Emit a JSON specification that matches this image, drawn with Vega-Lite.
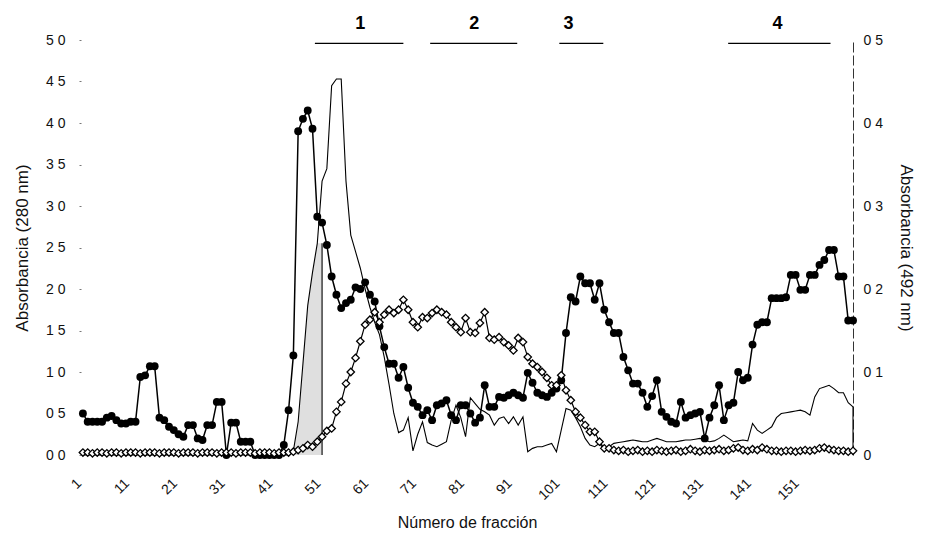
{
"$schema":"https://vega.github.io/schema/vega-lite/v6.json",
"width":772,"height":415,
"autosize":{"type":"none"},
"padding":{"left":81,"top":40,"right":74,"bottom":90},
"background":"white",
"config":{"view":{"stroke":null},"font":"Liberation Sans","axis":{"labelFont":"Liberation Sans","titleFont":"Liberation Sans","labelColor":"#111","titleColor":"#111","titleFontWeight":"normal","grid":false}},
"datasets":{
"fracciones":[
{"f":1,"a280":0.50,"a492":0.003,"s3":0},{"f":2,"a280":0.40,"a492":0.003,"s3":0},{"f":3,"a280":0.40,"a492":0.002,"s3":0},{"f":4,"a280":0.40,"a492":0.003,"s3":0},{"f":5,"a280":0.40,"a492":0.003,"s3":0},
{"f":6,"a280":0.45,"a492":0.002,"s3":0},{"f":7,"a280":0.47,"a492":0.003,"s3":0},{"f":8,"a280":0.42,"a492":0.003,"s3":0},{"f":9,"a280":0.38,"a492":0.002,"s3":0},{"f":10,"a280":0.38,"a492":0.003,"s3":0},
{"f":11,"a280":0.40,"a492":0.003,"s3":0},{"f":12,"a280":0.40,"a492":0.003,"s3":0},{"f":13,"a280":0.94,"a492":0.002,"s3":0},{"f":14,"a280":0.96,"a492":0.003,"s3":0},{"f":15,"a280":1.07,"a492":0.003,"s3":0},
{"f":16,"a280":1.07,"a492":0.003,"s3":0},{"f":17,"a280":0.45,"a492":0.002,"s3":0},{"f":18,"a280":0.42,"a492":0.003,"s3":0},{"f":19,"a280":0.34,"a492":0.003,"s3":0},{"f":20,"a280":0.30,"a492":0.003,"s3":0},
{"f":21,"a280":0.25,"a492":0.002,"s3":0},{"f":22,"a280":0.22,"a492":0.003,"s3":0},{"f":23,"a280":0.36,"a492":0.003,"s3":0},{"f":24,"a280":0.36,"a492":0.003,"s3":0},{"f":25,"a280":0.20,"a492":0.002,"s3":0},
{"f":26,"a280":0.18,"a492":0.003,"s3":0},{"f":27,"a280":0.36,"a492":0.003,"s3":0},{"f":28,"a280":0.36,"a492":0.003,"s3":0},{"f":29,"a280":0.64,"a492":0.002,"s3":0},{"f":30,"a280":0.64,"a492":0.003,"s3":0},
{"f":31,"a280":0.00,"a492":0.003,"s3":0},{"f":32,"a280":0.39,"a492":0.003,"s3":0},{"f":33,"a280":0.39,"a492":0.002,"s3":0},{"f":34,"a280":0.16,"a492":0.003,"s3":0},{"f":35,"a280":0.16,"a492":0.003,"s3":0},
{"f":36,"a280":0.16,"a492":0.003,"s3":0},{"f":37,"a280":0.00,"a492":0.002,"s3":0},{"f":38,"a280":0.00,"a492":0.003,"s3":0},{"f":39,"a280":0.00,"a492":0.003,"s3":0},{"f":40,"a280":0.00,"a492":0.003,"s3":0},
{"f":41,"a280":0.00,"a492":0.002,"s3":0},{"f":42,"a280":0.00,"a492":0.003,"s3":0},{"f":43,"a280":0.12,"a492":0.003,"s3":0},{"f":44,"a280":0.54,"a492":0.003,"s3":0},{"f":45,"a280":1.20,"a492":0.004,"s3":0.05},
{"f":46,"a280":3.90,"a492":0.006,"s3":0.4},{"f":47,"a280":4.05,"a492":0.008,"s3":1.1},{"f":48,"a280":4.15,"a492":0.012,"s3":1.8},{"f":49,"a280":3.93,"a492":0.010,"s3":2.2},{"f":50,"a280":2.87,"a492":0.016,"s3":2.55},
{"f":51,"a280":2.80,"a492":0.022,"s3":3.3},{"f":52,"a280":2.53,"a492":0.029,"s3":3.45},{"f":53,"a280":2.15,"a492":0.032,"s3":4.45},{"f":54,"a280":1.93,"a492":0.052,"s3":4.53},{"f":55,"a280":1.77,"a492":0.064,"s3":4.53},
{"f":56,"a280":1.83,"a492":0.086,"s3":3.3},{"f":57,"a280":1.87,"a492":0.100,"s3":2.65},{"f":58,"a280":2.02,"a492":0.117,"s3":2.45},{"f":59,"a280":2.00,"a492":0.137,"s3":2.25},{"f":60,"a280":2.08,"a492":0.157,"s3":2.0},
{"f":61,"a280":1.93,"a492":0.163,"s3":1.78},{"f":62,"a280":1.85,"a492":0.172,"s3":1.6},{"f":63,"a280":1.55,"a492":0.160,"s3":1.45},{"f":64,"a280":1.30,"a492":0.169,"s3":1.18},{"f":65,"a280":1.10,"a492":0.175,"s3":0.85},
{"f":66,"a280":1.10,"a492":0.171,"s3":0.5},{"f":67,"a280":0.93,"a492":0.175,"s3":0.27},{"f":68,"a280":1.06,"a492":0.187,"s3":0.3},{"f":69,"a280":0.81,"a492":0.175,"s3":0.45},{"f":70,"a280":0.63,"a492":0.160,"s3":0.05},
{"f":71,"a280":0.58,"a492":0.154,"s3":0.25},{"f":72,"a280":0.48,"a492":0.166,"s3":0.4},{"f":73,"a280":0.54,"a492":0.165,"s3":0.15},{"f":74,"a280":0.42,"a492":0.171,"s3":0.12},{"f":75,"a280":0.60,"a492":0.175,"s3":0.1},
{"f":76,"a280":0.62,"a492":0.172,"s3":0.13},{"f":77,"a280":0.66,"a492":0.169,"s3":0.16},{"f":78,"a280":0.48,"a492":0.160,"s3":0.42},{"f":79,"a280":0.42,"a492":0.154,"s3":0.6},{"f":80,"a280":0.60,"a492":0.148,"s3":0.45},
{"f":81,"a280":0.60,"a492":0.165,"s3":0.22},{"f":82,"a280":0.50,"a492":0.148,"s3":0.69},{"f":83,"a280":0.39,"a492":0.147,"s3":0.62},{"f":84,"a280":0.45,"a492":0.159,"s3":0.55},{"f":85,"a280":0.84,"a492":0.172,"s3":0.52},
{"f":86,"a280":0.58,"a492":0.141,"s3":0.48},{"f":87,"a280":0.58,"a492":0.139,"s3":0.36},{"f":88,"a280":0.70,"a492":0.142,"s3":0.44},{"f":89,"a280":0.69,"a492":0.136,"s3":0.46},{"f":90,"a280":0.72,"a492":0.132,"s3":0.38},
{"f":91,"a280":0.75,"a492":0.126,"s3":0.46},{"f":92,"a280":0.72,"a492":0.141,"s3":0.36},{"f":93,"a280":0.69,"a492":0.136,"s3":0.46},{"f":94,"a280":0.99,"a492":0.118,"s3":0.04},{"f":95,"a280":0.87,"a492":0.110,"s3":0.08},
{"f":96,"a280":0.75,"a492":0.106,"s3":0.1},{"f":97,"a280":0.72,"a492":0.100,"s3":0.1},{"f":98,"a280":0.70,"a492":0.093,"s3":0.12},{"f":99,"a280":0.75,"a492":0.084,"s3":0.14},{"f":100,"a280":0.80,"a492":0.084,"s3":0.04},
{"f":101,"a280":0.90,"a492":0.096,"s3":0.3},{"f":102,"a280":1.47,"a492":0.078,"s3":0.56},{"f":103,"a280":1.90,"a492":0.066,"s3":0.54},{"f":104,"a280":1.85,"a492":0.052,"s3":0.45},{"f":105,"a280":2.15,"a492":0.045,"s3":0.34},
{"f":106,"a280":2.07,"a492":0.036,"s3":0.2},{"f":107,"a280":2.07,"a492":0.028,"s3":0.12},{"f":108,"a280":1.87,"a492":0.028,"s3":0.1},{"f":109,"a280":2.07,"a492":0.016,"s3":0.14},{"f":110,"a280":1.75,"a492":0.008,"s3":0.06},
{"f":111,"a280":1.60,"a492":0.008,"s3":0.1},{"f":112,"a280":1.47,"a492":0.006,"s3":0.14},{"f":113,"a280":1.47,"a492":0.005,"s3":0.15},{"f":114,"a280":1.18,"a492":0.006,"s3":0.16},{"f":115,"a280":1.02,"a492":0.004,"s3":0.17},
{"f":116,"a280":0.86,"a492":0.005,"s3":0.18},{"f":117,"a280":0.86,"a492":0.006,"s3":0.17},{"f":118,"a280":0.75,"a492":0.004,"s3":0.16},{"f":119,"a280":0.58,"a492":0.005,"s3":0.16},{"f":120,"a280":0.71,"a492":0.004,"s3":0.18},
{"f":121,"a280":0.90,"a492":0.006,"s3":0.2},{"f":122,"a280":0.52,"a492":0.005,"s3":0.18},{"f":123,"a280":0.46,"a492":0.004,"s3":0.16},{"f":124,"a280":0.40,"a492":0.005,"s3":0.16},{"f":125,"a280":0.38,"a492":0.006,"s3":0.16},
{"f":126,"a280":0.64,"a492":0.004,"s3":0.17},{"f":127,"a280":0.45,"a492":0.005,"s3":0.18},{"f":128,"a280":0.48,"a492":0.007,"s3":0.18},{"f":129,"a280":0.50,"a492":0.005,"s3":0.19},{"f":130,"a280":0.52,"a492":0.004,"s3":0.2},
{"f":131,"a280":0.20,"a492":0.006,"s3":0.18},{"f":132,"a280":0.45,"a492":0.005,"s3":0.16},{"f":133,"a280":0.60,"a492":0.006,"s3":0.17},{"f":134,"a280":0.84,"a492":0.007,"s3":0.2},{"f":135,"a280":0.42,"a492":0.005,"s3":0.24},
{"f":136,"a280":0.60,"a492":0.006,"s3":0.2},{"f":137,"a280":0.63,"a492":0.008,"s3":0.16},{"f":138,"a280":1.00,"a492":0.009,"s3":0.17},{"f":139,"a280":0.90,"a492":0.006,"s3":0.18},{"f":140,"a280":0.93,"a492":0.005,"s3":0.17},
{"f":141,"a280":1.33,"a492":0.007,"s3":0.38},{"f":142,"a280":1.57,"a492":0.006,"s3":0.3},{"f":143,"a280":1.60,"a492":0.009,"s3":0.26},{"f":144,"a280":1.60,"a492":0.007,"s3":0.3},{"f":145,"a280":1.89,"a492":0.005,"s3":0.34},
{"f":146,"a280":1.89,"a492":0.005,"s3":0.45},{"f":147,"a280":1.89,"a492":0.004,"s3":0.5},{"f":148,"a280":1.90,"a492":0.005,"s3":0.51},{"f":149,"a280":2.17,"a492":0.005,"s3":0.52},{"f":150,"a280":2.17,"a492":0.004,"s3":0.53},
{"f":151,"a280":1.99,"a492":0.005,"s3":0.54},{"f":152,"a280":1.99,"a492":0.006,"s3":0.52},{"f":153,"a280":2.17,"a492":0.005,"s3":0.48},{"f":154,"a280":2.17,"a492":0.006,"s3":0.7},{"f":155,"a280":2.29,"a492":0.008,"s3":0.8},
{"f":156,"a280":2.35,"a492":0.009,"s3":0.82},{"f":157,"a280":2.47,"a492":0.007,"s3":0.84},{"f":158,"a280":2.47,"a492":0.006,"s3":0.8},{"f":159,"a280":2.15,"a492":0.005,"s3":0.75},{"f":160,"a280":2.15,"a492":0.005,"s3":0.75},
{"f":161,"a280":1.62,"a492":0.004,"s3":0.63},{"f":162,"a280":1.62,"a492":0.005,"s3":0.58}
],
"sombra":[{"f":45,"v":0.05},{"f":46,"v":0.4},{"f":47,"v":1.1},{"f":48,"v":1.8},{"f":49,"v":2.2},{"f":50,"v":2.55},{"f":51,"v":2.55}],
"bordes":[{"f":51,"v0":0,"v1":2.55},{"f":162,"v0":0,"v1":0.58}],
"grupos":[
{"g":"1","f":59,"ini":49.5,"fin":68,"y":4.96,"ty":5.19},
{"g":"2","f":82.8,"ini":73.6,"fin":91.8,"y":4.96,"ty":5.19},
{"g":"3","f":102.5,"ini":100.6,"fin":109.8,"y":4.96,"ty":5.19},
{"g":"4","f":146.2,"ini":135.9,"fin":157.3,"y":4.96,"ty":5.19}
]
},
"layer":[
{"layer":[
{"data":{"name":"sombra"},"mark":{"type":"area","color":"#dcdcdc","opacity":0.9},
 "encoding":{"x":{"field":"f","type":"quantitative","scale":{"domain":[0.6,162],"nice":false,"zero":false}},
 "y":{"field":"v","type":"quantitative","scale":{"domain":[0,5],"nice":false}}}},
{"data":{"name":"bordes"},"mark":{"type":"rule","color":"black","strokeWidth":1.1},
 "encoding":{"x":{"field":"f","type":"quantitative","scale":{"domain":[0.6,162],"nice":false,"zero":false}},
 "y":{"field":"v0","type":"quantitative","scale":{"domain":[0,5],"nice":false}},"y2":{"field":"v1"}}},
{"data":{"name":"fracciones"},"mark":{"type":"line","color":"black","strokeWidth":1.1},
 "encoding":{"x":{"field":"f","type":"quantitative","scale":{"domain":[0.6,162],"nice":false,"zero":false}},
 "y":{"field":"s3","type":"quantitative","scale":{"domain":[0,5],"nice":false}}}},
{"data":{"name":"fracciones"},"mark":{"type":"line","color":"black","strokeWidth":1.5},
 "encoding":{"x":{"field":"f","type":"quantitative","scale":{"domain":[0.6,162],"nice":false,"zero":false}},
 "y":{"field":"a280","type":"quantitative","scale":{"domain":[0,5],"nice":false}}}},
{"data":{"name":"fracciones"},"mark":{"type":"point","shape":"circle","filled":true,"color":"black","size":62,"opacity":1},
 "encoding":{"x":{"field":"f","type":"quantitative","scale":{"domain":[0.6,162],"nice":false,"zero":false},
   "axis":{"title":"Número de fracción","values":[1,11,21,31,41,51,61,71,81,91,101,111,121,131,141,151],"labelAngle":-45,"labelAlign":"right","labelBaseline":"middle","labelFontSize":14,"labelPadding":26,"labelOffset":-4,"domain":false,"ticks":false,"titleFontSize":16,"titlePadding":12,"labelOverlap":false}},
 "y":{"field":"a280","type":"quantitative","scale":{"domain":[0,5],"nice":false},
   "axis":{"title":"Absorbancia (280 nm)","values":[0,0.5,1,1.5,2,2.5,3,3.5,4,4.5,5],"labelExpr":"replace(format(datum.value,'.1f'),'.',' ')","labelFontSize":14,"domain":false,"ticks":true,"tickSize":2,"tickColor":"#777","labelPadding":14,"titleFontSize":17,"titlePadding":14}}}},
{"data":{"name":"grupos"},"mark":{"type":"rule","color":"black","strokeWidth":1.3},
 "encoding":{"x":{"field":"ini","type":"quantitative","scale":{"domain":[0.6,162],"nice":false,"zero":false}},"x2":{"field":"fin"},
 "y":{"field":"y","type":"quantitative","scale":{"domain":[0,5],"nice":false}}}},
{"data":{"name":"grupos"},"mark":{"type":"text","fontSize":18,"fontWeight":"bold","color":"black","baseline":"middle","align":"center"},
 "encoding":{"x":{"field":"f","type":"quantitative","scale":{"domain":[0.6,162],"nice":false,"zero":false}},
 "y":{"field":"ty","type":"quantitative","scale":{"domain":[0,5],"nice":false}},"text":{"field":"g"}}}
]},
{"layer":[
{"data":{"name":"fracciones"},"mark":{"type":"line","color":"black","strokeWidth":1.2},
 "encoding":{"x":{"field":"f","type":"quantitative","scale":{"domain":[0.6,162],"nice":false,"zero":false}},
 "y":{"field":"a492","type":"quantitative","scale":{"domain":[0,0.5],"nice":false}}}},
{"data":{"name":"fracciones"},"mark":{"type":"point","shape":"diamond","filled":true,"fill":"white","stroke":"black","strokeWidth":1.3,"size":55,"opacity":1},
 "encoding":{"x":{"field":"f","type":"quantitative","scale":{"domain":[0.6,162],"nice":false,"zero":false}},
 "y":{"field":"a492","type":"quantitative","scale":{"domain":[0,0.5],"nice":false},
   "axis":{"orient":"right","title":"Absorbancia (492 nm)","values":[0,0.1,0.2,0.3,0.4,0.5],"labelExpr":"datum.value==0 ? '0' : replace(format(datum.value,'.1f'),'.',' ')","labelFontSize":14,"domain":true,"domainDash":[10,3],"domainColor":"#333","domainWidth":1,"ticks":false,"labelPadding":10,"titleFontSize":17,"titlePadding":14}}}}
]}
],
"resolve":{"scale":{"y":"independent"}}
}
